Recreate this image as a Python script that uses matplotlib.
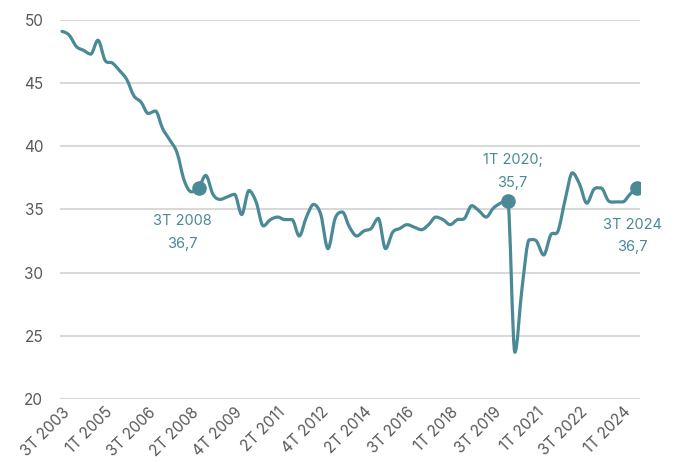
import numpy as np
import matplotlib
matplotlib.use('Agg')
import matplotlib.pyplot as plt
from matplotlib.path import Path
from matplotlib.patches import PathPatch

# quarterly values, 3T 2003 .. 3T 2024 (81 categories on the axis)
values = [
    49.1, 48.8, 47.9, 47.6, 47.3, 48.4, 46.8, 46.6, 46.0, 45.3,
    44.0, 43.5, 42.6, 42.8, 41.4, 40.5, 39.5, 37.3, 36.4, 36.7,
    37.7, 36.2, 35.8, 36.0, 36.2, 34.6, 36.5, 35.6, 33.7, 34.2,
    34.4, 34.2, 34.2, 32.9, 34.4, 35.4, 34.6, 31.9, 34.3, 34.8,
    33.6, 32.9, 33.3, 33.5, 34.3, 31.9, 33.2, 33.5, 33.8, 33.6,
    33.4, 33.8, 34.4, 34.2, 33.8, 34.2, 34.3, 35.3, 34.9, 34.4,
    35.1, 35.5, 35.7, 23.7, 28.8, 32.6, 32.5, 31.4, 33.0, 33.3,
    35.8, 37.9, 37.0, 35.5, 36.6, 36.7, 35.7, 35.6, 35.6, 36.2,
    36.7,
]
tick_labels = ['3T 2003', '1T 2005', '3T 2006', '2T 2008', '4T 2009', '2T 2011',
               '4T 2012', '2T 2014', '3T 2016', '1T 2018', '3T 2019', '1T 2021',
               '3T 2022', '1T 2024']
tick_step = 6
# highlighted points: (index, label)
marks_idx = [19, 62, 80]
marks_text = ['3T 2008\n36,7', '1T 2020;\n35,7', '3T 2024\n36,7']

teal = '#4a8a96'
grey = '#595959'

plt.rcParams['font.family'] = ['Inter', 'DejaVu Sans']

fig = plt.figure(figsize=(6.77, 4.62), dpi=100)
ax = fig.add_axes([0.0886, 0.1364, 0.8567, 0.8203])

x = np.arange(len(values))
y = np.array(values)

# smooth line drawn as cubic bezier segments (catmull-rom tangents,
# flattened at local peaks/troughs so the curve doesn't overshoot)
n = len(y)
slope = np.zeros(n)
for k in range(n):
    a = y[max(k - 1, 0)]
    b = y[min(k + 1, n - 1)]
    if 0 < k < n - 1 and (y[k] - a) * (b - y[k]) <= 0:
        slope[k] = 0.0
    else:
        slope[k] = (b - a) / 2
verts = [(x[0], y[0])]
codes = [Path.MOVETO]
for k in range(n - 1):
    verts += [(x[k] + 1 / 3, y[k] + slope[k] / 3),
              (x[k + 1] - 1 / 3, y[k + 1] - slope[k + 1] / 3),
              (x[k + 1], y[k + 1])]
    codes += [Path.CURVE4] * 3
ax.add_patch(PathPatch(Path(verts, codes), fill=False, edgecolor=teal,
                       linewidth=2.3, capstyle='round', joinstyle='round', zorder=3))

ax.plot(x[marks_idx], y[marks_idx], 'o', color=teal, markersize=9.5, zorder=4)

offsets = [(-11.5, -32), (3.6, 21), (-3.5, -34.5)]
for i, txt, (dx, dy) in zip(marks_idx, marks_text, offsets):
    ax.annotate(txt, (x[i], y[i]), xytext=(dx, dy), textcoords='offset points',
                ha='center', va='center', color=teal, fontsize=10.5, linespacing=1.75)

ax.set_xlim(-0.28, 80.4)
ax.set_ylim(20, 50)
ax.set_yticks([20, 25, 30, 35, 40, 45, 50])
ax.set_xticks(x[::tick_step])
ax.set_xticklabels(tick_labels, rotation=45, ha='right', rotation_mode='anchor')
ax.tick_params(axis='both', length=0, colors=grey)
ax.tick_params(axis='y', pad=12, labelsize=11)
ax.tick_params(axis='x', pad=4, labelsize=11)
ax.grid(axis='y', color='#d9d9d9', linewidth=1.5)
ax.set_axisbelow(True)
for s in ax.spines.values():
    s.set_visible(False)

fig.savefig('out.png', dpi=100)
